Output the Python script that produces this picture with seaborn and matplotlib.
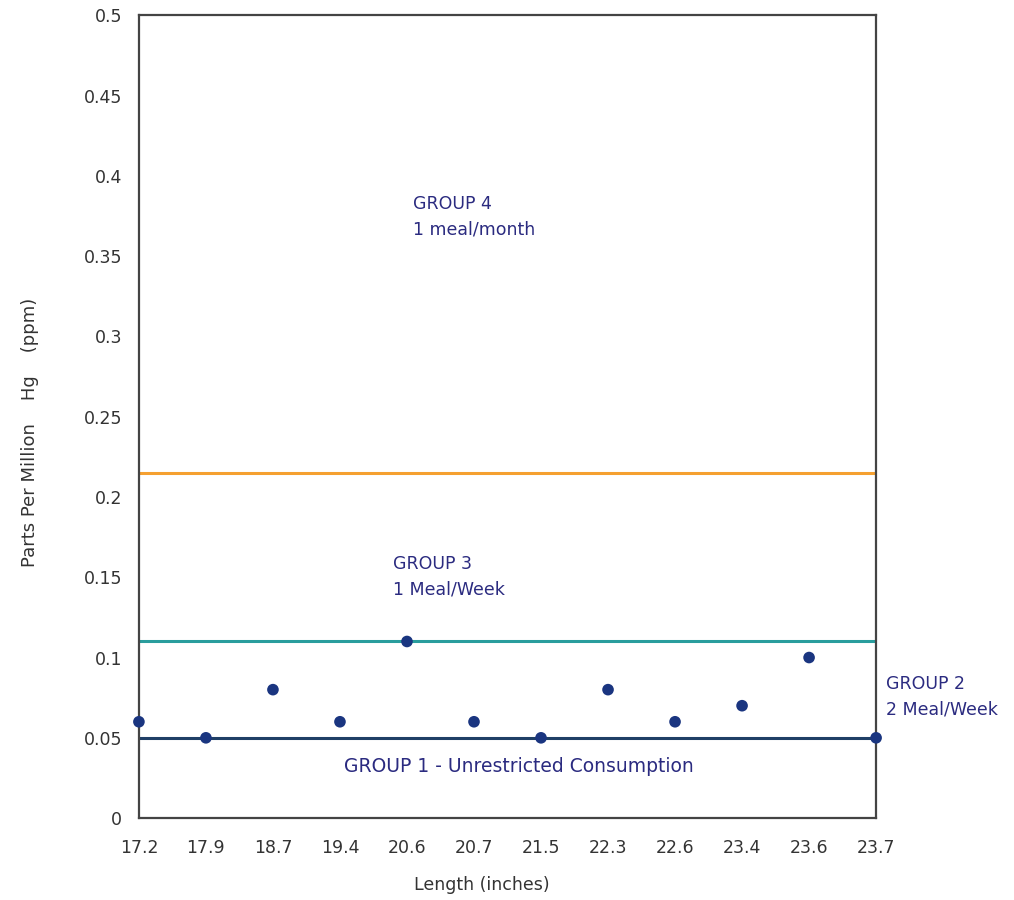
import matplotlib
matplotlib.use("Agg")
import matplotlib.pyplot as plt
import seaborn as sns
import pandas as pd

lengths = ["17.2", "17.9", "18.7", "19.4", "20.6", "20.7", "21.5", "22.3", "22.6", "23.4", "23.6", "23.7"]
ppm = [0.06, 0.05, 0.08, 0.06, 0.11, 0.06, 0.05, 0.08, 0.06, 0.07, 0.10, 0.05]
thresholds = [0.05, 0.11, 0.215]
threshold_colors = ["#1f3f66", "#2a9d9d", "#f5a030"]
yticks = [0, 0.05, 0.1, 0.15, 0.2, 0.25, 0.3, 0.35, 0.4, 0.45, 0.5]
ytick_labels = ["0", "0.05", "0.1", "0.15", "0.2", "0.25", "0.3", "0.35", "0.4", "0.45", "0.5"]

sns.set_style("white")
plt.rcParams["font.family"] = ["DejaVu Sans"]

df = pd.DataFrame({"Length": lengths, "ppm": ppm})

fig = plt.figure(figsize=(10.14, 9.0), dpi=100)
ax = fig.add_axes([0.137, 0.091, 0.727, 0.892])

for t, c in zip(thresholds, threshold_colors):
    ax.axhline(t, color=c, lw=2.2, zorder=1)

sns.scatterplot(data=df, x="Length", y="ppm", ax=ax, color="#1a3580", s=70,
                edgecolor="none", zorder=3, clip_on=False)

ax.set_xlim(0, len(lengths) - 1)
ax.set_ylim(0, 0.5)
ax.set_yticks(yticks)
ax.set_yticklabels(ytick_labels)
ax.tick_params(axis="y", labelsize=12.5, colors="#333333", length=0, pad=12)
ax.tick_params(axis="x", labelsize=12.5, colors="#333333", length=0, pad=15)
ax.set_xlabel("Length (inches)", fontsize=12.5, color="#333333")
ax.set_ylabel("Parts Per Million    Hg    (ppm)", fontsize=13, color="#333333")
ax.xaxis.set_label_coords(0.465, -0.072)
ax.yaxis.set_label_coords(-0.136, 0.48)
for s in ax.spines.values():
    s.set_color("#444444")
    s.set_linewidth(1.6)

tc = "#2b2b80"
ax.text(4.09, 0.388, "GROUP 4\n1 meal/month", color=tc, fontsize=12.5, va="top", ha="left", linespacing=1.55)
ax.text(3.79, 0.164, "GROUP 3\n1 Meal/Week", color=tc, fontsize=12.5, va="top", ha="left", linespacing=1.55)
ax.text(5.67, 0.032, "GROUP 1 - Unrestricted Consumption", color=tc, fontsize=13.5, va="center", ha="center")
ax.text(1.013, 0.089, "GROUP 2\n2 Meal/Week", color=tc, fontsize=12.5, va="top", ha="left",
        linespacing=1.55, transform=ax.get_yaxis_transform())

fig.savefig("out.png", dpi=100)
